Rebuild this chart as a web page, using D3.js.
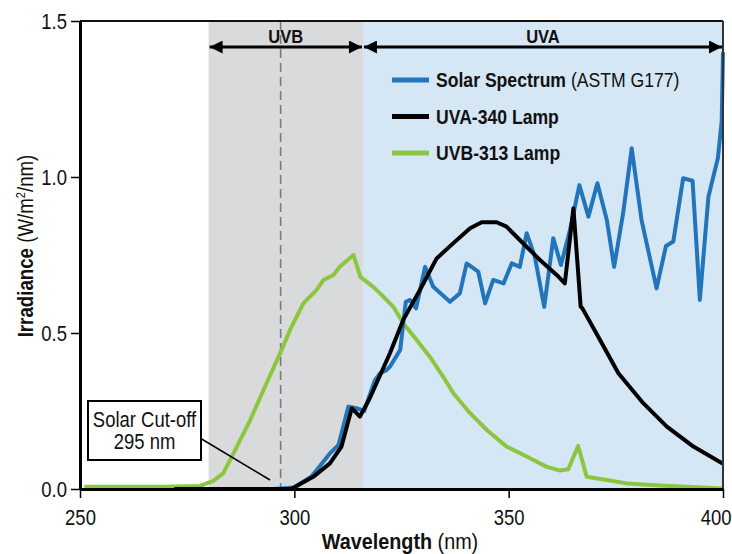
<!DOCTYPE html>
<html>
<head>
<meta charset="utf-8">
<script src="https://cdn.jsdelivr.net/npm/d3@7"></script>
<style>
  html, body { margin: 0; padding: 0; background: #fff; }
  svg { display: block; }
  text { font-family: "Liberation Sans", Arial, Helvetica, sans-serif; fill: #111; }
</style>
</head>
<body>
<svg id="chart" width="732" height="554"></svg>
<script>
// ---- Data ----
const xTicks = [250, 300, 350, 400];
const yTicks = [0.0, 0.5, 1.0, 1.5];
const yTickLabels = ["0.0", "0.5", "1.0", "1.5"];

const seriesNames = ["Solar Spectrum", "UVA-340 Lamp", "UVB-313 Lamp"];

const solarWl = [295, 300, 304, 308.3, 310.3, 312.6, 314.5, 316.3, 318.8, 320, 321.5, 322.3, 324.7, 326, 327, 328.4,
  330.5, 332.4, 336.3, 338.6, 340.2, 342.9, 344.5, 346.4, 348.8, 350.7, 352.6, 354.2, 356.1, 358.3, 360.4,
  362.2, 364.3, 366.5, 368.6, 370.7, 372.9, 374.6, 376.7, 378.7, 381, 384.5, 386.7, 388.4, 390.7, 392.9,
  394.6, 396.6, 398.8, 399.7, 400];
const solarVal = [0.0, 0.005, 0.04, 0.114, 0.141, 0.264, 0.259, 0.25, 0.349, 0.371, 0.381, 0.392, 0.446, 0.6, 0.606, 0.579,
  0.712, 0.648, 0.6, 0.627, 0.723, 0.697, 0.595, 0.67, 0.659, 0.723, 0.712, 0.82, 0.745, 0.584, 0.804,
  0.718, 0.83, 0.974, 0.873, 0.98, 0.862, 0.712, 0.884, 1.092, 0.862, 0.643, 0.779, 0.793, 0.996, 0.988,
  0.606, 0.937, 1.06, 1.18, 1.40];

const uva340Wl = [272, 299, 300.2, 304.4, 308.3, 311, 313.4, 315.3, 317.6, 322.3, 325.4, 329.3, 333.2, 337.1, 341,
  343.7, 347.2, 349.5, 352.6, 357.3, 361.2, 363.1, 365.1, 366.8, 367.2, 370.9, 375.6, 381.4, 386.9, 393.1, 399.9];
const uva340Val = [0.0, 0.0, 0.007, 0.039, 0.082, 0.136, 0.259, 0.232, 0.291, 0.435, 0.542, 0.638, 0.739, 0.788, 0.836,
  0.855, 0.855, 0.841, 0.798, 0.734, 0.686, 0.659, 0.9, 0.584, 0.579, 0.488, 0.371, 0.275, 0.2, 0.136, 0.082];

const uvb313Wl = [251, 270, 278, 281, 283.4, 285.8, 289.7, 293.5, 296.7, 299, 302.1, 305.2, 306.8, 309.1, 310.6,
  313.8, 315.4, 318.4, 320, 323.1, 325.4, 328.5, 331.6, 334.7, 337.1, 341, 344.9, 349.5, 354.2, 358.9, 362,
  363.9, 366.2, 368.2, 372.9, 377.5, 385.3, 400];
const uvb313Val = [0.007, 0.007, 0.01, 0.025, 0.05, 0.114, 0.221, 0.339, 0.435, 0.51, 0.595, 0.638, 0.67, 0.686, 0.712,
  0.75, 0.68, 0.648, 0.627, 0.584, 0.531, 0.478, 0.424, 0.36, 0.307, 0.243, 0.189, 0.136, 0.104, 0.071, 0.059,
  0.063, 0.138, 0.039, 0.029, 0.018, 0.011, 0.002];

const uvbBand = [280, 316];
const uvaBand = [316, 400];
const cutoffWl = 296.8;

// ---- Layout ----
const svg = d3.select("#chart");
const x = d3.scaleLinear().domain([250, 400]).range([80, 723]);
const y = d3.scaleLinear().domain([0, 1.5]).range([489, 21]);
const colors = { solar: "#2275bb", uva: "#000000", uvb: "#8cc63f" };

// condensed text helper: horizontally compressed real text
function ctext(parent, px, py, sx, size) {
  return parent.append("g").attr("transform", `translate(${px},${py}) scale(${sx},1)`)
    .append("text").attr("x", 0).attr("y", 0).style("font-size", size + "px");
}

// Bands
svg.append("rect").attr("x", x(uvbBand[0])).attr("y", y(1.5))
  .attr("width", x(uvbBand[1]) - x(uvbBand[0])).attr("height", y(0) - y(1.5)).attr("fill", "#d9dadb");
svg.append("rect").attr("x", x(uvaBand[0])).attr("y", y(1.5))
  .attr("width", x(uvaBand[1]) - x(uvaBand[0])).attr("height", y(0) - y(1.5)).attr("fill", "#d5e6f4");

// Cut-off dashed line
svg.append("line").attr("x1", x(cutoffWl)).attr("x2", x(cutoffWl))
  .attr("y1", y(1.5)).attr("y2", y(0))
  .attr("stroke", "#7a7a7a").attr("stroke-width", 1.6).attr("stroke-dasharray", "9,5");

// Lines
const line = d3.line().x(d => x(d[0])).y(d => y(d[1])).curve(d3.curveLinear);
const mk = (w, v) => w.map((d, i) => [d, v[i]]);
svg.append("path").datum(mk(uvb313Wl, uvb313Val)).attr("d", line)
  .attr("fill", "none").attr("stroke", colors.uvb).attr("stroke-width", 4).attr("stroke-linejoin", "round");
svg.append("path").datum(mk(solarWl, solarVal)).attr("d", line)
  .attr("fill", "none").attr("stroke", colors.solar).attr("stroke-width", 4).attr("stroke-linejoin", "round");
svg.append("path").datum(mk(uva340Wl, uva340Val)).attr("d", line)
  .attr("fill", "none").attr("stroke", colors.uva).attr("stroke-width", 4).attr("stroke-linejoin", "round");

// Frame top/right
svg.append("line").attr("x1", x(250)).attr("x2", x(400)).attr("y1", y(1.5)).attr("y2", y(1.5))
  .attr("stroke", "#111").attr("stroke-width", 2);
svg.append("line").attr("x1", x(400)).attr("x2", x(400)).attr("y1", y(1.5)).attr("y2", y(0))
  .attr("stroke", "#333").attr("stroke-width", 2);

// Axes
const xAxis = d3.axisBottom(x).tickValues(xTicks).tickSize(9).tickSizeOuter(0).tickPadding(11);
const gx = svg.append("g").attr("transform", `translate(0,${y(0)})`).call(xAxis);
gx.select(".domain").attr("stroke", "#000").attr("stroke-width", 3);
gx.selectAll(".tick line").attr("stroke", "#000").attr("stroke-width", 1.5);
gx.selectAll(".tick text").style("font-size", "22px").attr("fill", "#111")
  .attr("font-family", "Liberation Sans, Arial, sans-serif").attr("transform", "scale(0.84,1)");
// keep the last label inside the picture, as in the reference
gx.selectAll(".tick text").filter(d => d === xTicks[xTicks.length - 1])
  .attr("text-anchor", "end").attr("x", (731 - x(400)) / 0.84);

const yAxis = d3.axisLeft(y).tickValues(yTicks).tickFormat((d, i) => yTickLabels[i]).tickSize(9).tickSizeOuter(0).tickPadding(4);
const gy = svg.append("g").attr("transform", `translate(${x(250)},0)`).call(yAxis);
gy.select(".domain").attr("stroke", "#000").attr("stroke-width", 3);
gy.selectAll(".tick line").attr("stroke", "#000").attr("stroke-width", 1.5);
gy.selectAll(".tick text").style("font-size", "22px").attr("fill", "#111")
  .attr("font-family", "Liberation Sans, Arial, sans-serif")
  .attr("x", -13 / 0.84).attr("transform", "scale(0.84,1)");

// Axis titles
const xt = ctext(svg, 400, 549, 0.9, 22).attr("text-anchor", "middle");
xt.append("tspan").attr("font-weight", "bold").text("Wavelength");
xt.append("tspan").text(" (nm)");

const ytg = svg.append("g").attr("transform", "translate(33,246) rotate(-90) scale(0.85,1)");
const yt = ytg.append("text").attr("text-anchor", "middle").style("font-size", "22px");
yt.append("tspan").attr("font-weight", "bold").text("Irradiance");
yt.append("tspan").text(" (W/m");
yt.append("tspan").attr("dy", -8).style("font-size", "13px").text("2");
yt.append("tspan").attr("dy", 8).text("/nm)");

// Region arrows
const defs = svg.append("defs");
defs.append("marker").attr("id", "ah").attr("viewBox", "0 0 10 10").attr("refX", 10).attr("refY", 5)
  .attr("markerWidth", 14).attr("markerHeight", 13).attr("markerUnits", "userSpaceOnUse").attr("orient", "auto-start-reverse")
  .append("path").attr("d", "M0,0 L10,5 L0,10 Z").attr("fill", "#000");

function regionArrow(a, b, label) {
  svg.append("line").attr("x1", x(a) + 1).attr("x2", x(b) - 1).attr("y1", 47).attr("y2", 47)
    .attr("stroke", "#000").attr("stroke-width", 3)
    .attr("marker-start", "url(#ah)").attr("marker-end", "url(#ah)");
  ctext(svg, (x(a) + x(b)) / 2, 43, 0.87, 19).attr("text-anchor", "middle")
    .attr("font-weight", "bold").text(label);
}
regionArrow(uvbBand[0], uvbBand[1], "UVB");
regionArrow(uvaBand[0], uvaBand[1], "UVA");

// Legend
const legend = [
  { color: colors.solar, bold: seriesNames[0], rest: " (ASTM G177)" },
  { color: colors.uva, bold: seriesNames[1], rest: "" },
  { color: colors.uvb, bold: seriesNames[2], rest: "" }
];
legend.forEach((d, i) => {
  const yy = 80 + i * 36.5;
  svg.append("line").attr("x1", 392).attr("x2", 429).attr("y1", yy).attr("y2", yy)
    .attr("stroke", d.color).attr("stroke-width", 5);
  const t = ctext(svg, 436, yy + 7, 0.88, 20);
  t.append("tspan").attr("font-weight", "bold").text(d.bold);
  if (d.rest) t.append("tspan").text(d.rest);
});

// Annotation box
svg.append("line").attr("x1", 200).attr("y1", 438).attr("x2", 270).attr("y2", 480)
  .attr("stroke", "#000").attr("stroke-width", 1.5);
svg.append("rect").attr("x", 88).attr("y", 401).attr("width", 113).attr("height", 59)
  .attr("fill", "#fff").attr("stroke", "#000").attr("stroke-width", 2);
ctext(svg, 144.5, 427, 0.84, 22).attr("text-anchor", "middle").text("Solar Cut-off");
ctext(svg, 144.5, 449, 0.84, 22).attr("text-anchor", "middle").text("295 nm");
</script>
</body>
</html>
